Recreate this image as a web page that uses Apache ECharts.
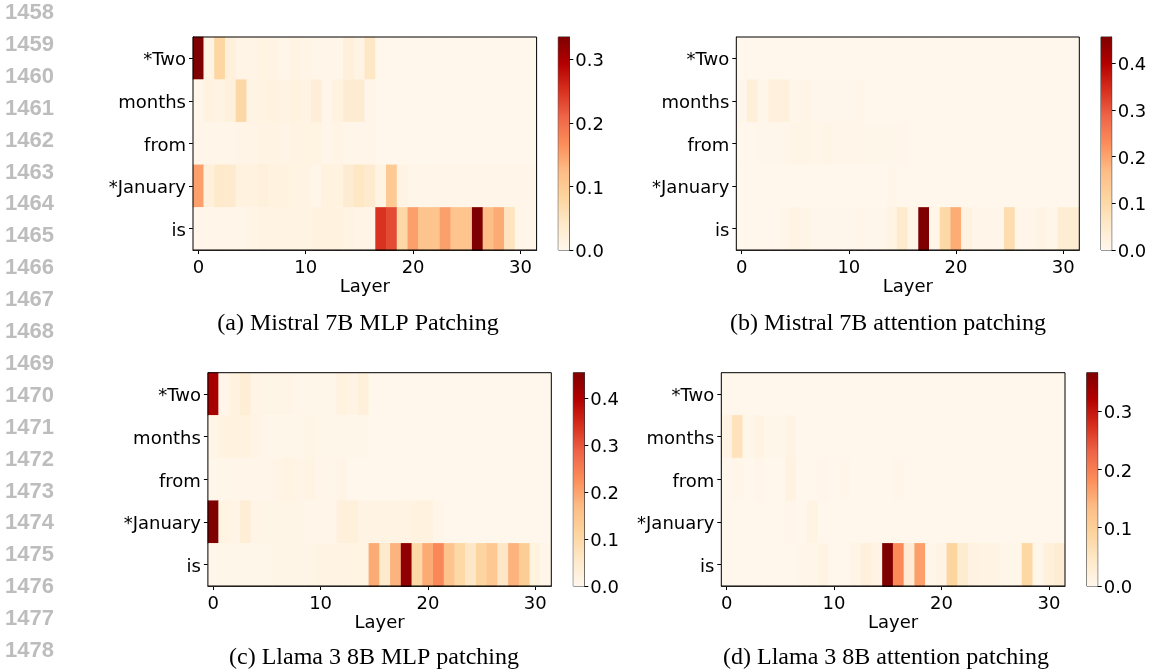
<!DOCTYPE html>
<html><head><meta charset="utf-8">
<script src="https://cdn.jsdelivr.net/npm/echarts@6/dist/echarts.min.js"></script>
<style>html,body{margin:0;padding:0;background:#fff}#c{width:1150px;height:672px}</style>
</head><body><div id="c"></div>
<script>
// ---- data ----
const tokens = ['*Two', 'months', 'from', '*January', 'is'];
const layers = ['0','1','2','3','4','5','6','7','8','9','10','11','12','13','14','15','16','17','18','19','20','21','22','23','24','25','26','27','28','29','30','31'];

// rows: *Two, months, from, *January, is
const mistralMlp = [
  [0.335,0.01,0.08,0.02,0.008,0.008,0.012,0.01,0.005,0.01,0.008,0.005,0.005,0.005,0.02,0.01,0.045,0,0,0,0,0,0,0,0,0,0,0,0,0,0,0],
  [0.005,0.015,0.01,0.02,0.075,0.01,0.012,0.015,0.01,0.015,0.01,0.025,0.005,0.015,0.03,0.03,0.003,0,0,0,0,0,0,0,0,0,0,0,0,0,0,0],
  [0.005,0.005,0.005,0.005,0.008,0.008,0.01,0.01,0.008,0.01,0.012,0.012,0.005,0.008,0.003,0.005,0.003,0,0,0,0,0,0,0,0,0,0,0,0,0,0,0],
  [0.15,0.02,0.04,0.035,0.015,0.015,0.02,0.015,0.015,0.012,0.01,0.005,0.015,0.015,0.03,0.045,0.035,0.01,0.1,0.01,0.005,0.003,0.003,0.005,0.003,0.003,0.003,0.003,0.003,0.005,0.005,0.003],
  [0.005,0.005,0.005,0.005,0.005,0.008,0.01,0.01,0.01,0.01,0.012,0.015,0.015,0.015,0.01,0.008,0.008,0.25,0.23,0.075,0.15,0.11,0.11,0.15,0.11,0.11,0.335,0.12,0.14,0.05,0.005,0.005]
];
const mistralAttn = [
  [0,0,0,0,0,0,0,0,0,0,0,0,0,0,0,0,0,0,0,0,0,0,0,0,0,0,0,0,0,0,0,0],
  [0.002,0.03,0.003,0.025,0.025,0.004,0.01,0.002,0.002,0.002,0.002,0.005,0,0,0,0,0,0,0,0,0,0,0,0,0,0,0,0,0,0,0,0],
  [0.001,0.001,0.002,0.002,0.006,0.008,0.008,0.005,0.009,0.004,0.004,0.005,0.003,0.003,0.003,0.006,0,0,0,0,0,0,0,0,0,0,0,0,0,0,0,0],
  [0,0,0,0,0,0,0,0,0,0,0,0,0,0,0.005,0,0,0,0,0,0,0,0,0,0,0,0,0,0,0,0,0],
  [0,0,0,0,0.006,0.012,0.008,0.002,0.002,0.002,0.002,0.006,0.002,0.002,0.015,0.05,0.005,0.456,0.006,0.1,0.19,0.02,0.004,0.004,0.004,0.09,0.004,0.004,0.012,0.005,0.04,0.04]
];
const llamaMlp = [
  [0.41,0.005,0.02,0.035,0.01,0.008,0.008,0.008,0.003,0.003,0.003,0.003,0.02,0.012,0.025,0,0,0,0,0,0,0,0,0,0,0,0,0,0,0,0,0],
  [0.008,0.02,0.02,0.02,0.01,0.005,0.003,0.003,0.003,0.008,0.003,0.003,0.003,0.003,0.003,0,0,0,0,0,0,0,0,0,0,0,0,0,0,0,0,0],
  [0.003,0.003,0.005,0.005,0.005,0.005,0.01,0.015,0.01,0.013,0.005,0.003,0.01,0,0,0,0,0,0,0,0,0,0,0,0,0,0,0,0,0,0,0],
  [0.454,0.015,0.01,0.035,0.01,0.008,0.008,0.008,0.008,0.005,0.005,0.005,0.025,0.025,0.012,0.012,0.012,0.012,0.012,0.02,0.02,0.005,0,0,0,0,0,0,0,0,0,0],
  [0.003,0.003,0.003,0.003,0.003,0.003,0.008,0.008,0.008,0.008,0.012,0.012,0.012,0.015,0.015,0.19,0.05,0.18,0.435,0.1,0.19,0.235,0.15,0.1,0.06,0.11,0.14,0.06,0.18,0.13,0.02,0.005]
];
const llamaAttn = [
  [0,0,0,0,0,0,0,0,0,0,0,0,0,0,0,0,0,0,0,0,0,0,0,0,0,0,0,0,0,0,0,0],
  [0.01,0.06,0.003,0.01,0.003,0.003,0.01,0,0,0,0,0,0,0,0,0,0,0,0,0,0,0,0,0,0,0,0,0,0,0,0,0],
  [0,0.005,0,0.005,0,0,0.015,0,0,0.005,0,0.005,0,0,0,0,0.005,0,0,0,0,0,0,0,0,0,0,0,0,0,0,0],
  [0,0,0,0,0,0,0.005,0,0.01,0,0,0,0,0,0,0,0,0,0,0,0,0,0,0,0,0,0,0,0,0,0,0],
  [0,0,0,0,0,0,0,0.005,0.005,0.01,0,0,0.008,0.02,0.01,0.366,0.186,0.03,0.165,0.003,0.01,0.09,0.035,0.015,0.01,0.01,0.005,0.003,0.085,0.003,0.02,0.03]
];

const cbTicksA = [0, 0.1, 0.2, 0.3];
const cbTicksB = [0, 0.1, 0.2, 0.3, 0.4];
const cbTicksC = [0, 0.1, 0.2, 0.3, 0.4];
const cbTicksD = [0, 0.1, 0.2, 0.3];

const captions = [
  '(a) Mistral 7B MLP Patching',
  '(b) Mistral 7B attention patching',
  '(c) Llama 3 8B MLP patching',
  '(d) Llama 3 8B attention patching'
];
const lineNumbers = ['1458','1459','1460','1461','1462','1463','1464','1465','1466','1467','1468','1469','1470','1471','1472','1473','1474','1475','1476','1477','1478'];

// ---- styling / layout ----
const ORRD = ['#fff7ec','#fee8c8','#fdd49e','#fdbb84','#fc8d59','#ef6548','#d7301f','#b30000','#7f0000'];
const FONT = 'DejaVu Sans';
const panels = [
  {data: mistralMlp, ticks: cbTicksA, grid: {left: 193, top: 37, width: 343.6, height: 213}, cb: {left: 558.3, top: 37, width: 11, height: 213}, cap: [358, 324]},
  {data: mistralAttn, ticks: cbTicksB, grid: {left: 736.3, top: 37, width: 343, height: 213}, cb: {left: 1101, top: 37, width: 10.7, height: 213}, cap: [888, 324]},
  {data: llamaMlp, ticks: cbTicksC, grid: {left: 207.9, top: 372.7, width: 343.4, height: 213.3}, cb: {left: 573.3, top: 372.7, width: 11, height: 213.3}, cap: [374, 658]},
  {data: llamaAttn, ticks: cbTicksD, grid: {left: 721.3, top: 372.7, width: 343.7, height: 213.3}, cb: {left: 1086.7, top: 372.7, width: 11, height: 213.3}, cap: [886, 658]}
];

const grids = [], xAxes = [], yAxes = [], series = [], visualMaps = [], graphics = [];
const gradStops = ORRD.map((c, i) => ({offset: i / (ORRD.length - 1), color: c}));

panels.forEach((p, i) => {
  const cmax = Math.max(...p.data.flat());
  const cells = [];
  p.data.forEach((row, r) => row.forEach((v, c) => cells.push([c, r, v])));
  grids[i] = Object.assign({show: true, borderColor: '#000', borderWidth: 1, backgroundColor: 'transparent', z: 3}, p.grid);
  grids[4 + i] = Object.assign({show: true, borderColor: '#333', borderWidth: 1}, p.cb);
  xAxes[i] = {
    type: 'category', gridIndex: i, data: layers,
    axisLine: {show: true, lineStyle: {color: '#000', width: 1}},
    axisTick: {show: true, alignWithLabel: true, length: 4, interval: (idx) => idx % 10 === 0, lineStyle: {color: '#000'}},
    axisLabel: {interval: (idx) => idx % 10 === 0, color: '#000', fontFamily: FONT, fontSize: 18, margin: 9},
    splitLine: {show: false},
    name: 'Layer', nameLocation: 'middle', nameGap: 27,
    nameTextStyle: {color: '#000', fontFamily: FONT, fontSize: 18}
  };
  yAxes[i] = {
    type: 'category', gridIndex: i, data: tokens, inverse: true,
    axisLine: {show: true, lineStyle: {color: '#000', width: 1}},
    axisTick: {show: true, alignWithLabel: true, length: 4, lineStyle: {color: '#000'}},
    axisLabel: {color: '#000', fontFamily: FONT, fontSize: 18, margin: 7, verticalAlign: 'top', lineHeight: 5},
    splitLine: {show: false}
  };
  xAxes[4 + i] = {type: 'category', gridIndex: 4 + i, data: ['cb'], show: false};
  yAxes[4 + i] = {
    type: 'value', gridIndex: 4 + i, min: 0, max: cmax, position: 'right',
    axisLine: {show: true, lineStyle: {color: '#333', width: 1}},
    axisTick: {show: true, length: 4, customValues: p.ticks, lineStyle: {color: '#000'}},
    axisLabel: {customValues: p.ticks, formatter: (v) => v.toFixed(1), color: '#000', fontFamily: FONT, fontSize: 18, margin: 6, verticalAlign: 'top', lineHeight: 5},
    splitLine: {show: false}
  };
  series.push({
    type: 'heatmap', xAxisIndex: i, yAxisIndex: i, data: cells,
    itemStyle: {borderWidth: 0}, emphasis: {disabled: true}, silent: true
  });
  visualMaps.push({
    type: 'continuous', seriesIndex: i, dimension: 2, min: 0, max: cmax,
    inRange: {color: ORRD}, show: false
  });
  graphics.push({
    type: 'text', x: p.cap[0], y: p.cap[1],
    style: {text: captions[i], font: '24px "Liberation Serif"', fill: '#000', textAlign: 'center', textVerticalAlign: 'middle'}
  });
  p.cmax = cmax;
});
panels.forEach((p, i) => {
  series.push({
    type: 'bar', xAxisIndex: 4 + i, yAxisIndex: 4 + i, data: [p.cmax],
    barWidth: '100%', silent: true,
    itemStyle: {color: {type: 'linear', x: 0, y: 1, x2: 0, y2: 0, colorStops: gradStops}}
  });
});
lineNumbers.forEach((t, k) => {
  graphics.push({
    type: 'text', x: 5, y: 13 + 31.9 * k,
    style: {text: t, font: 'bold 22px "Liberation Sans"', fill: '#bdbdbd', textAlign: 'left', textVerticalAlign: 'middle'}
  });
});

const chart = echarts.init(document.getElementById('c'), null, {renderer: 'canvas'});
chart.setOption({
  animation: false,
  backgroundColor: '#fff',
  grid: grids, xAxis: xAxes, yAxis: yAxes,
  visualMap: visualMaps, series: series, graphic: graphics
});
</script>
</body></html>
